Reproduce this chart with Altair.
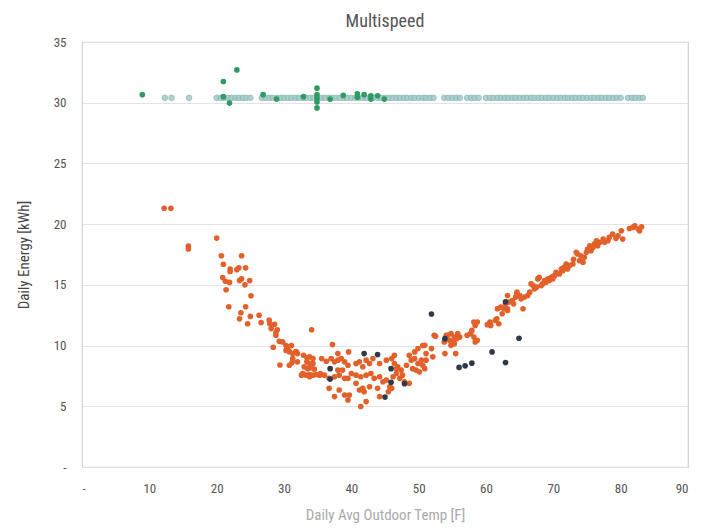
import altair as alt
import pandas as pd

# ---- data ----
orange_x = [12.2, 13.2, 15.8, 15.8, 20.0, 20.7, 21.0, 23.7, 22.0, 22.0, 23.0, 23.3, 24.3, 20.9, 21.3, 21.9,
            23.4, 23.7, 24.9, 24.2, 21.4, 25.1, 21.8, 24.3, 23.6, 25.0, 23.4, 24.6, 26.3, 26.6, 27.8, 27.9,
            28.1, 28.6, 29.0, 28.8, 28.8, 29.3, 29.8, 28.4, 30.3, 30.5, 30.3, 30.8, 31.3, 31.8, 29.4, 31.2,
            32.0, 34.1, 30.6, 31.1, 31.8, 32.9, 33.4, 33.8, 34.3, 33.4, 33.8, 34.3, 33.0, 33.5, 34.0, 34.5,
            32.8, 33.3, 33.8, 34.3, 34.8, 32.6, 35.3, 33.8, 31.3, 30.8, 32.0,
            35.6, 36.3, 37.0, 37.5, 38.0, 38.5, 39.0, 39.5, 37.2, 38.0, 39.6, 40.7, 41.2, 41.7, 42.2, 42.7,
            43.2, 44.2, 45.2, 46.4, 35.4, 36.0, 36.7, 37.5, 38.2, 39.0, 39.5, 38.0, 38.7, 40.0, 40.7, 41.4,
            42.2, 42.9, 43.4, 44.2, 44.7, 45.2, 36.7, 38.2, 39.0, 37.5, 39.7, 39.5, 40.7, 41.2, 41.7, 41.9,
            42.7, 43.9, 44.2, 42.2, 41.4, 45.7, 45.5,
            46.0, 46.4, 46.9, 47.4, 46.7, 47.6, 46.2, 47.2, 47.9, 46.0, 46.7, 48.2, 48.6, 48.9, 49.4, 49.9,
            50.4, 49.1, 49.6, 50.6, 50.9, 50.1, 48.6, 49.4, 49.9, 50.6, 51.1, 51.9, 52.1, 51.1, 52.5, 53.9,
            55.5, 54.3, 54.8, 55.3, 55.8, 54.6, 55.1, 55.6, 56.1, 54.9, 55.3, 57.2, 57.7, 58.2, 58.7, 57.9,
            58.4, 58.2, 58.7, 60.2, 60.7, 61.4, 61.9, 61.7, 62.2, 62.7, 62.4, 63.2, 62.9, 63.4, 63.9, 64.1,
            64.4, 64.6, 63.2, 52.3, 53.8, 54.1, 54.8, 50.9, 58.4, 61.6, 60.6, 64.6, 63.2,
            82.1, 82.6, 83.1, 81.3, 80.1, 79.6, 79.3, 78.8, 78.3, 78.1, 77.6, 77.4, 76.9, 76.4, 76.6, 76.1,
            75.9, 75.4, 75.1, 75.6, 74.9, 74.6, 74.1, 73.9, 73.6, 73.4, 74.4, 72.9, 72.4, 72.1, 71.9, 71.6,
            71.4, 71.2, 70.9, 70.4, 70.2, 69.9, 69.7, 69.4, 69.2, 68.9, 68.7, 68.4, 68.2, 67.9, 67.7, 67.5,
            67.2, 67.0, 66.7, 66.5, 66.2, 65.7, 65.2, 65.0, 65.5, 80.3, 81.8, 82.8, 73.0, 70.0]
orange_y = [21.3, 21.3, 18.2, 17.95, 18.85, 17.4, 16.7, 17.4, 16.3, 16.1, 16.25, 16.4, 16.4, 15.6, 15.3, 15.2,
            15.35, 15.5, 15.35, 15.0, 14.6, 14.1, 13.2, 13.2, 12.7, 12.4, 12.2, 11.8, 12.5, 11.9, 12.1, 11.8,
            11.4, 11.75, 11.3, 10.85, 11.07, 10.35, 10.3, 9.86, 10.0, 9.67, 9.6, 9.5, 9.35, 9.5, 8.4, 8.6,
            8.66, 11.3, 9.9, 10.0, 9.48, 9.2, 9.0, 9.07, 8.93, 8.66, 8.52, 8.52, 8.25, 8.1, 8.17, 8.06,
            7.7, 7.56, 7.62, 7.56, 7.62, 7.56, 7.56, 7.43, 8.93, 8.38, 9.34,
            8.93, 8.71, 8.93, 8.66, 8.8, 8.93, 8.66, 8.38, 10.08, 9.34, 9.48, 8.52, 8.66, 8.25, 8.8, 8.52,
            8.93, 8.52, 8.8, 9.2, 7.7, 7.56, 7.3, 7.43, 7.56, 7.3, 7.3, 7.98, 7.98, 7.7, 7.56, 7.43,
            7.56, 7.7, 7.3, 7.43, 7.02, 7.16, 6.48, 6.34, 5.93, 5.8, 5.93, 5.52, 6.89, 6.34, 6.48, 6.2,
            6.61, 6.48, 5.8, 5.39, 4.98, 6.61, 6.2,
            8.93, 8.52, 8.25, 7.98, 7.7, 7.56, 7.43, 7.3, 7.02, 6.48, 8.1, 8.38, 6.89, 8.8, 8.93, 8.52,
            8.8, 8.1, 7.98, 8.38, 8.1, 7.84, 9.2, 9.48, 9.75, 10.0, 9.34, 9.75, 9.07, 8.8, 10.76, 9.34,
            9.34, 10.84, 10.98, 10.7, 10.98, 10.43, 10.3, 10.57, 10.7, 10.16, 10.16, 10.84, 10.98, 10.7, 10.43, 11.25,
            11.66, 11.94, 11.94, 11.72, 11.66, 12.07, 11.8, 13.03, 13.17, 13.03, 12.62, 12.89, 13.44, 13.58, 13.71, 13.44,
            13.99, 14.26, 14.12, 10.84, 10.3, 10.84, 10.02, 10.02, 10.3, 12.21, 11.94, 14.4, 13.03,
            19.86, 19.59, 19.78, 19.64, 19.45, 19.04, 18.83, 19.18, 18.91, 18.63, 18.5, 18.77, 18.5, 18.63, 18.22, 18.36,
            18.09, 18.22, 17.95, 17.81, 17.68, 17.27, 17.4, 16.99, 17.54, 17.68, 16.86, 16.72, 16.58, 16.31, 16.72, 16.45,
            16.17, 16.31, 15.9, 16.04, 15.76, 15.49, 15.63, 15.35, 15.49, 15.22, 15.35, 15.08, 14.94, 15.63, 15.49, 14.81,
            14.67, 14.94, 15.08, 14.4, 14.12, 13.99, 13.85, 14.12, 13.03, 18.77, 19.73, 19.45, 17.1, 15.7]

navy_x = [51.9, 53.9, 64.9, 62.9, 60.9, 62.9, 57.9, 56.9, 56.0, 41.9, 43.9, 36.85, 36.85, 45.9, 45.9, 47.9, 45.0]
navy_y = [12.6, 10.57, 10.6, 13.6, 9.48, 8.6, 8.55, 8.33, 8.2, 9.34, 9.26, 8.1, 7.24, 8.1, 6.97, 6.86, 5.76]

green_x = [8.96, 21.0, 23.0, 21.0, 21.9, 26.9, 28.9, 32.9, 34.9, 34.9, 34.9, 34.9, 34.9, 36.85, 38.8, 40.9,
           40.9, 41.9, 42.9, 43.9, 42.9, 44.9]
green_y = [30.66, 31.75, 32.7, 30.5, 29.97, 30.66, 30.3, 30.5, 31.2, 30.66, 30.38, 30.06, 29.57, 30.3, 30.6, 30.74,
           30.45, 30.66, 30.57, 30.57, 30.3, 30.3]

teal_x = [12.3, 13.3, 15.9, 20.0, 20.6, 21.1, 21.7, 22.2, 22.8, 23.3, 23.9, 24.4, 25.0, 26.7, 27.2, 27.8,
          28.3, 28.9, 29.5, 30.0, 30.6, 31.1, 31.7, 32.2, 32.8, 33.3, 33.9, 34.4, 35.0, 35.6, 36.1, 36.7,
          37.2, 37.8, 38.3, 38.9, 39.4, 40.0, 40.6, 41.1, 41.7, 42.2, 42.8, 43.3, 43.9, 44.4, 45.0, 45.6,
          46.1, 46.7, 47.2, 47.8, 48.3, 48.9, 49.4, 50.0, 50.6, 51.1, 51.7, 52.2, 53.8, 54.4, 55.0, 55.6,
          56.1, 57.2, 57.8, 58.3, 58.9, 60.0, 60.6, 61.1, 61.7, 62.2, 62.8, 63.3, 63.9, 64.4, 65.0, 65.6,
          66.1, 66.7, 67.2, 67.8, 68.3, 68.9, 69.4, 70.0, 70.6, 71.1, 71.7, 72.2, 72.8, 73.3, 73.9, 74.4,
          75.0, 75.6, 76.1, 76.7, 77.2, 77.8, 78.3, 78.9, 79.4, 80.0, 81.1, 81.7, 82.2, 82.8, 83.3]
teal_level = 30.4

x_ticks = [0, 10, 20, 30, 40, 50, 60, 70, 80, 90]
y_ticks = [0, 5, 10, 15, 20, 25, 30, 35]

FONT = "Roboto Condensed, Liberation Sans Narrow, Roboto, sans-serif"

df_orange = pd.DataFrame({"x": orange_x, "y": orange_y})
df_navy = pd.DataFrame({"x": navy_x, "y": navy_y})
df_green = pd.DataFrame({"x": green_x, "y": green_y})
df_teal = pd.DataFrame({"x": teal_x, "y": [teal_level for _ in teal_x]})

xenc = alt.X("x:Q", scale=alt.Scale(domain=[0, 90], nice=False),
             axis=alt.Axis(values=x_ticks, title="Daily Avg Outdoor Temp [F]",
                           labelExpr="datum.value == 0 ? '-' : datum.label",
                           grid=False, domain=False, ticks=False, labelPadding=15,
                           titlePadding=12, titleColor="#aaaaaa", titleFontSize=15,
                           titleFontWeight="normal", labelColor="#555555", labelFontSize=13))
yenc = alt.Y("y:Q", scale=alt.Scale(domain=[0, 35], nice=False),
             axis=alt.Axis(values=y_ticks, title="Daily Energy [kWh]",
                           labelExpr="datum.value == 0 ? '-' : datum.label",
                           grid=True, gridColor="#e3e3e3", domain=False, ticks=False,
                           labelPadding=16, titlePadding=22, titleColor="#444444",
                           titleFontSize=15, titleFontWeight="normal",
                           labelColor="#555555", labelFontSize=13))

SIZE = 32

orange = alt.Chart(df_orange).mark_circle(size=SIZE, opacity=1, color="#E2602A").encode(x=xenc, y=yenc)
navy = alt.Chart(df_navy).mark_circle(size=SIZE, opacity=1, color="#2E3A4B").encode(x="x:Q", y="y:Q")
teal = alt.Chart(df_teal).mark_point(shape="circle", size=SIZE, filled=True, opacity=0.85,
                                     color="#A2CBC9", stroke="#7fb1af", strokeWidth=0.8).encode(x="x:Q", y="y:Q")
green = alt.Chart(df_green).mark_circle(size=SIZE, opacity=1, color="#2E9C62").encode(x="x:Q", y="y:Q")

chart = alt.layer(orange, navy, teal, green).properties(
    width=606, height=425,
    title=alt.TitleParams("Multispeed", fontSize=18, font=FONT, color="#555555",
                          fontWeight="normal", offset=5),
    autosize=alt.AutoSizeParams(type="none"),
    padding={"left": 74, "top": 34, "right": 20, "bottom": 60},
).configure_view(stroke="#d0d0d0", strokeWidth=1.2).configure_axis(
    labelFont=FONT, titleFont=FONT
)

chart.save("out.html", embed_options={"renderer": "svg", "actions": False})
